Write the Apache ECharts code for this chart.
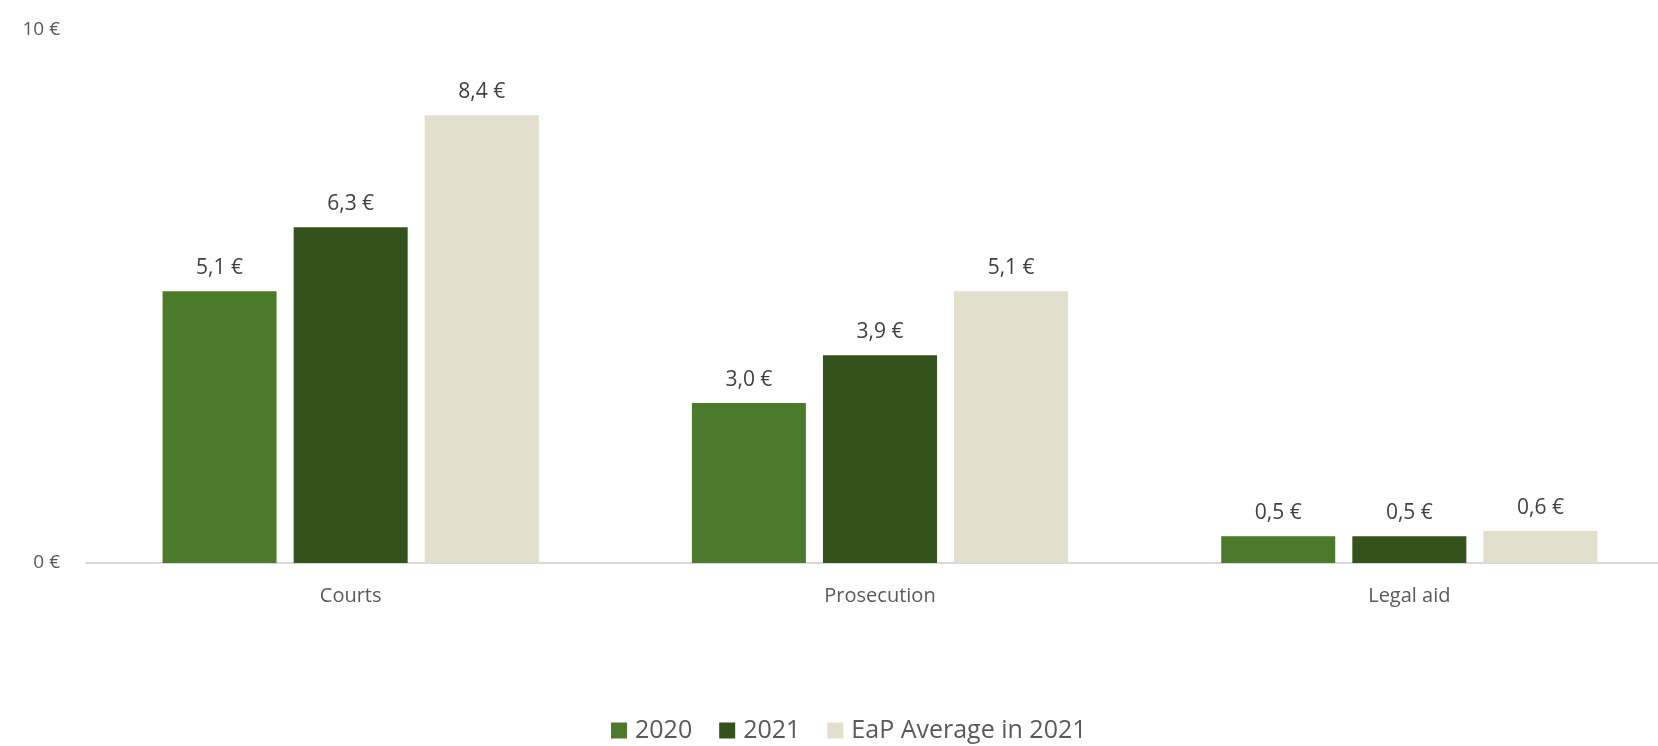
<!DOCTYPE html>
<html>
<head>
<meta charset="utf-8">
<script src="https://cdn.jsdelivr.net/npm/echarts@6/dist/echarts.min.js"></script>
<style>
  html, body { margin: 0; padding: 0; background: #fff; }
  #chart { width: 1658px; height: 746px; }
</style>
</head>
<body>
<div id="chart"></div>
<script>
// categories and values
const categories = ['Courts', 'Prosecution', 'Legal aid'];
const seriesNames = ['2020', '2021', 'EaP Average in 2021'];
const values2020 = [5.1, 3.0, 0.5];
const values2021 = [6.3, 3.9, 0.5];
const valuesEaP = [8.4, 5.1, 0.6];
const colors = ['#4a7a2a', '#33521c', '#e2dfcc'];

const font = '"Open Sans", "Noto Sans", sans-serif';
const fmt = v => v.toFixed(1).replace('.', ',') + ' €';

const chart = echarts.init(document.getElementById('chart'));

function bar(name, data, color) {
  return {
    name: name,
    type: 'bar',
    data: data,
    barWidth: 114,
    barGap: '15%',
    itemStyle: { color: color },
    label: {
      show: true,
      position: 'top',
      distance: 13,
      color: '#404040',
      fontFamily: font,
      fontSize: 21,
      formatter: p => fmt(p.value)
    }
  };
}

chart.setOption({
  animation: false,
  textStyle: { fontFamily: font },
  // plot area runs slightly past the right edge, as in the reference
  grid: { left: 86, width: 1588, top: 30, bottom: 183, containLabel: false, outerBoundsMode: 'none' },
  legend: {
    bottom: 3,
    left: 611,
    padding: 0,
    itemWidth: 16,
    itemHeight: 16,
    itemGap: 27,
    icon: 'rect',
    textStyle: { color: '#595959', fontSize: 25, fontFamily: font, padding: [0, 0, 0, 3] },
    data: seriesNames
  },
  xAxis: {
    type: 'category',
    data: categories,
    axisLine: { lineStyle: { color: '#d9d9d9', width: 2 } },
    axisTick: { show: false },
    axisLabel: { color: '#595959', fontSize: 20, margin: 23, fontFamily: font }
  },
  yAxis: {
    type: 'value',
    min: 0,
    max: 10,
    interval: 10,
    splitLine: { show: false },
    axisLine: { show: false },
    axisTick: { show: false },
    axisLabel: { color: '#595959', fontSize: 19, margin: 26, fontFamily: font, formatter: '{value} €' }
  },
  series: [
    bar(seriesNames[0], values2020, colors[0]),
    bar(seriesNames[1], values2021, colors[1]),
    bar(seriesNames[2], valuesEaP, colors[2])
  ]
});
</script>
</body>
</html>
